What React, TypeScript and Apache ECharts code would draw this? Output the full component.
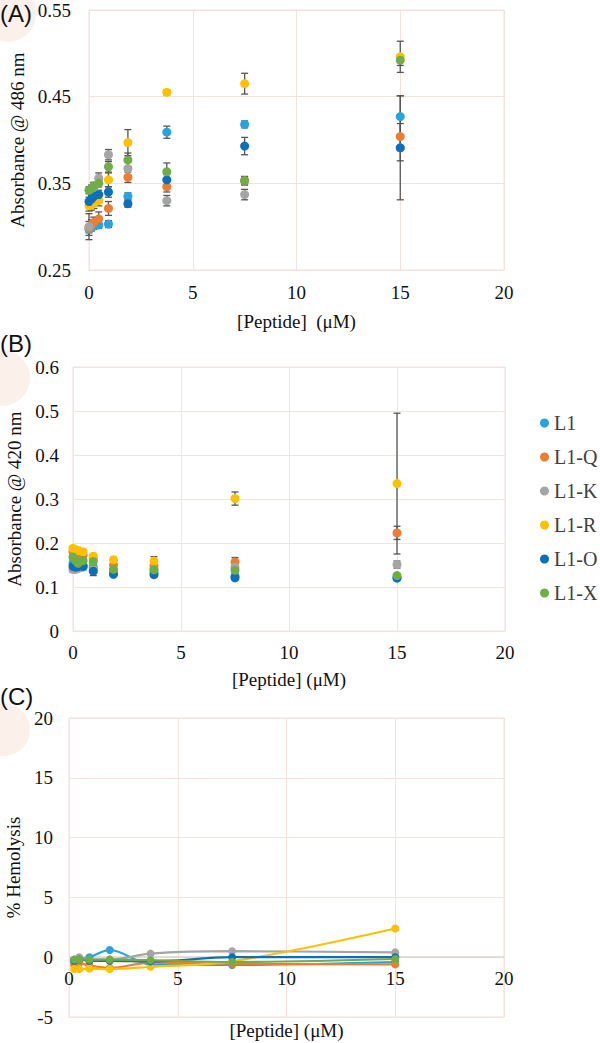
import { useEffect, useRef } from "react";
import * as echarts from "echarts";

const seriesNames = ["L1", "L1-Q", "L1-K", "L1-R", "L1-O", "L1-X"];
const seriesColors = ["#27a3dd", "#ed7d31", "#a5a5a5", "#ffc000", "#0a70be", "#70ad47"];

// Peptide concentrations (µM)
const concAB = [0, 0.1171875, 0.234375, 0.46875, 0.9375, 1.875, 3.75, 7.5, 15];
const concC = [0.234375, 0.46875, 0.9375, 1.875, 3.75, 7.5, 15];

// Panel A: absorbance @ 486 nm
const absA_L1 = [0.297, 0.299, 0.301, 0.302, 0.303, 0.335, 0.409, 0.418, 0.427];
const absA_L1Q = [0.298, 0.302, 0.305, 0.309, 0.321, 0.357, 0.346, 0.353, 0.404];
const absA_L1K = [0.300, 0.330, 0.345, 0.356, 0.383, 0.367, 0.330, 0.337, 0.391];
const absA_L1R = [0.324, 0.325, 0.327, 0.330, 0.354, 0.397, 0.455, 0.465, 0.496];
const absA_L1O = [0.329, 0.332, 0.335, 0.337, 0.340, 0.3265, 0.354, 0.393, 0.391];
const absA_L1X = [0.342, 0.344, 0.347, 0.350, 0.369, 0.377, 0.3635, 0.353, 0.492];

const errA_L1 = [0.004, 0.004, 0.004, 0.004, 0.004, 0.004, 0.007, 0.004, 0.024];
const errA_L1Q = [0.008, 0.006, 0.006, 0.008, 0.008, 0.006, 0.006, 0.005, 0.015];
const errA_L1K = [0.015, 0.006, 0.006, 0.006, 0.006, 0.008, 0.006, 0.006, 0.06];
const errA_L1R = [0.006, 0.006, 0.006, 0.006, 0.008, 0.015, 0.003, 0.012, 0.018];
const errA_L1O = [0.005, 0.005, 0.005, 0.005, 0.006, 0.004, 0.006, 0.01, 0.015];
const errA_L1X = [0.004, 0.004, 0.004, 0.004, 0.006, 0.008, 0.01, 0.004, 0.006];

// Panel B: absorbance @ 420 nm
const absB_L1 = [0.154, 0.150, 0.150, 0.148, 0.145, 0.133, 0.133, 0.125, 0.120];
const absB_L1Q = [0.180, 0.178, 0.175, 0.172, 0.165, 0.150, 0.148, 0.157, 0.223];
const absB_L1K = [0.140, 0.140, 0.142, 0.145, 0.140, 0.135, 0.140, 0.145, 0.151];
const absB_L1R = [0.188, 0.185, 0.183, 0.180, 0.170, 0.162, 0.159, 0.301, 0.335];
const absB_L1O = [0.147, 0.145, 0.146, 0.147, 0.136, 0.129, 0.128, 0.121, 0.121];
const absB_L1X = [0.168, 0.160, 0.154, 0.160, 0.158, 0.140, 0.139, 0.138, 0.126];

const errB_L1 = [0.005, 0.005, 0.005, 0.005, 0.005, 0.004, 0.004, 0.004, 0.004];
const errB_L1Q = [0.005, 0.005, 0.005, 0.005, 0.005, 0.005, 0.006, 0.01, 0.015];
const errB_L1K = [0.006, 0.006, 0.006, 0.006, 0.006, 0.005, 0.005, 0.006, 0.008];
const errB_L1R = [0.005, 0.005, 0.005, 0.005, 0.005, 0.005, 0.01, 0.015, 0.16];
const errB_L1O = [0.005, 0.005, 0.005, 0.005, 0.01, 0.004, 0.004, 0.004, 0.004];
const errB_L1X = [0.005, 0.005, 0.005, 0.005, 0.005, 0.004, 0.004, 0.004, 0.004];

// Panel C: % hemolysis
const hemC_L1 = [-0.3, -0.2, 0.0, 0.6, -0.6, -0.65, -0.4];
const hemC_L1Q = [-0.6, -0.5, -0.7, -0.9, -0.45, -0.55, -0.6];
const hemC_L1K = [-0.2, 0.0, -0.2, -0.2, 0.3, 0.5, 0.4];
const hemC_L1R = [-1.0, -1.0, -0.95, -1.0, -0.8, -0.35, 2.4];
const hemC_L1O = [-0.3, -0.2, -0.3, -0.3, -0.35, 0.0, 0.0];
const hemC_L1X = [-0.2, -0.2, -0.2, -0.2, -0.25, -0.4, -0.15];

const yTicksA = ["0.25", "0.35", "0.45", "0.55"];

const absA = [absA_L1, absA_L1Q, absA_L1K, absA_L1R, absA_L1O, absA_L1X];
const errA = [errA_L1, errA_L1Q, errA_L1K, errA_L1R, errA_L1O, errA_L1X];
const absB = [absB_L1, absB_L1Q, absB_L1K, absB_L1R, absB_L1O, absB_L1X];
const errB = [errB_L1, errB_L1Q, errB_L1K, errB_L1R, errB_L1O, errB_L1X];
const hemC = [hemC_L1, hemC_L1Q, hemC_L1K, hemC_L1R, hemC_L1O, hemC_L1X];

const SERIF = '"Liberation Serif", "Times New Roman", serif';
const GRID_COLOR = "#f3e2de";

function errorSeries(gi: number, vals: number[], errs: number[]) {
  return {
    type: "custom",
    xAxisIndex: gi,
    yAxisIndex: gi,
    z: 2,
    silent: true,
    data: vals.map((v, i) => [concAB[i], v, errs[i]]),
    encode: { x: 0, y: 1 },
    renderItem: (_params: any, api: any) => {
      const x = api.value(0);
      const y = api.value(1);
      const e = api.value(2);
      const top = api.coord([x, y + e]);
      const bot = api.coord([x, y - e]);
      const hw = 3.5;
      const style = { stroke: "#555555", lineWidth: 1.3 };
      return {
        type: "group",
        children: [
          { type: "line", shape: { x1: top[0], y1: top[1], x2: bot[0], y2: bot[1] }, style },
          { type: "line", shape: { x1: top[0] - hw, y1: top[1], x2: top[0] + hw, y2: top[1] }, style },
          { type: "line", shape: { x1: bot[0] - hw, y1: bot[1], x2: bot[0] + hw, y2: bot[1] }, style },
        ],
      };
    },
  };
}

function xAxisCfg(gi: number, name: string, nameGap: number, margin: number) {
  return {
    gridIndex: gi,
    type: "value",
    min: 0,
    max: 20,
    interval: 5,
    axisLine: { show: true, onZero: false, lineStyle: { color: GRID_COLOR, width: 1 } },
    axisTick: { show: false },
    axisLabel: { fontFamily: SERIF, fontSize: 19, color: "#111", margin },
    splitLine: { show: true, lineStyle: { color: GRID_COLOR, width: 1 } },
    name,
    nameLocation: "middle",
    nameGap,
    nameTextStyle: { fontFamily: SERIF, fontSize: 19, color: "#111" },
  };
}

export default function App() {
  const ref = useRef<HTMLDivElement>(null);
  useEffect(() => {
    document.body.style.margin = "0";
    if (!ref.current) return;
    const chart = echarts.init(ref.current, null, { renderer: "svg" });

    const series: any[] = [];
    // Panel A
    absA.forEach((vals, s) => series.push(errorSeries(0, vals, errA[s])));
    absA.forEach((vals, s) =>
      series.push({
        type: "scatter",
        name: seriesNames[s],
        xAxisIndex: 0,
        yAxisIndex: 0,
        symbolSize: 9,
        z: 3,
        itemStyle: { color: seriesColors[s], opacity: 1 },
        data: vals.map((v, i) => [concAB[i], v]),
      })
    );
    // Panel B
    absB.forEach((vals, s) => series.push(errorSeries(1, vals, errB[s])));
    absB.forEach((vals, s) =>
      series.push({
        type: "scatter",
        name: seriesNames[s],
        xAxisIndex: 1,
        yAxisIndex: 1,
        symbolSize: 9,
        z: 3,
        itemStyle: { color: seriesColors[s], opacity: 1 },
        data: vals.map((v, i) => [concAB[i], v]),
      })
    );
    // Panel C
    hemC.forEach((vals, s) =>
      series.push({
        type: "line",
        name: seriesNames[s],
        xAxisIndex: 2,
        yAxisIndex: 2,
        smooth: 0.35,
        symbol: "circle",
        symbolSize: 8,
        showSymbol: true,
        z: 3,
        lineStyle: { color: seriesColors[s], width: 2.2 },
        itemStyle: { color: seriesColors[s] },
        data: vals.map((v, i) => [concC[i], v]),
        markLine:
          s === 0
            ? {
                silent: true,
                symbol: "none",
                z: 1,
                label: { show: false },
                lineStyle: { color: "#d9d4d2", width: 1.5, type: "solid" },
                data: [{ yAxis: 0 }],
              }
            : undefined,
      })
    );

    const yLabel = { fontFamily: SERIF, fontSize: 19, color: "#111" };
    const peach = "#fcf0eb";

    chart.setOption({
      animation: false,
      backgroundColor: "#ffffff",
      grid: [
        { left: 89, top: 10, width: 415, height: 260, show: true, borderColor: GRID_COLOR, borderWidth: 1, outerBoundsMode: "none", containLabel: false },
        { left: 73, top: 367, width: 432, height: 264, show: true, borderColor: GRID_COLOR, borderWidth: 1, outerBoundsMode: "none", containLabel: false },
        { left: 69, top: 718, width: 435, height: 299, show: true, borderColor: GRID_COLOR, borderWidth: 1, outerBoundsMode: "none", containLabel: false },
      ],
      xAxis: [
        xAxisCfg(0, "[Peptide]  (μM)", 42, 13),
        xAxisCfg(1, "[Peptide] (μM)", 39, 12),
        xAxisCfg(2, "[Peptide] (μM)", 4, -48),
      ],
      yAxis: [
        {
          gridIndex: 0,
          type: "value",
          min: 0.25,
          max: 0.55,
          interval: 0.1,
          axisLine: { show: false },
          axisTick: { show: false },
          axisLabel: {
            ...yLabel,
            margin: 18,
            formatter: (v: number) => yTicksA[Math.round((v - 0.25) / 0.1)] ?? v.toFixed(2),
          },
          splitLine: { show: true, lineStyle: { color: GRID_COLOR } },
          name: "Absorbance @ 486 nm",
          nameLocation: "middle",
          nameGap: 57,
          nameTextStyle: yLabel,
        },
        {
          gridIndex: 1,
          type: "value",
          min: 0,
          max: 0.6,
          interval: 0.1,
          axisLine: { show: false },
          axisTick: { show: false },
          axisLabel: {
            ...yLabel,
            margin: 14,
            formatter: (v: number) => (Math.abs(v) < 1e-9 ? "0" : v.toFixed(1)),
          },
          splitLine: { show: true, lineStyle: { color: GRID_COLOR } },
          name: "Absorbance @ 420 nm",
          nameLocation: "middle",
          nameGap: 41,
          nameTextStyle: yLabel,
        },
        {
          gridIndex: 2,
          type: "value",
          min: -5,
          max: 20,
          interval: 5,
          axisLine: { show: false },
          axisTick: { show: false },
          axisLabel: { ...yLabel, margin: 16 },
          splitLine: { show: true, lineStyle: { color: GRID_COLOR } },
          name: "% Hemolysis",
          nameLocation: "middle",
          nameGap: 37,
          nameTextStyle: yLabel,
        },
      ],
      legend: {
        data: seriesNames,
        orient: "vertical",
        left: 535,
        top: 408,
        itemWidth: 9,
        itemHeight: 9,
        itemGap: 14,
        icon: "circle",
        selectedMode: false,
        textStyle: { fontFamily: SERIF, fontSize: 20, color: "#404040" },
      },
      graphic: [
        { type: "circle", z: -1, shape: { cx: 8, cy: 14, r: 28 }, style: { fill: peach } },
        { type: "circle", z: -1, shape: { cx: 2, cy: 378, r: 28 }, style: { fill: peach } },
        { type: "circle", z: -1, shape: { cx: 4, cy: 730, r: 26 }, style: { fill: peach } },
        { type: "text", z: 10, left: 0, top: 1, style: { text: "(A)", font: '24px "Liberation Sans"', fill: "#111" } },
        { type: "text", z: 10, left: 0, top: 331, style: { text: "(B)", font: '24px "Liberation Sans"', fill: "#111" } },
        { type: "text", z: 10, left: 0, top: 684, style: { text: "(C)", font: '24px "Liberation Sans"', fill: "#111" } },
      ],
      series,
    });

    return () => chart.dispose();
  }, []);

  return <div ref={ref} style={{ width: 600, height: 1043 }} />;
}
